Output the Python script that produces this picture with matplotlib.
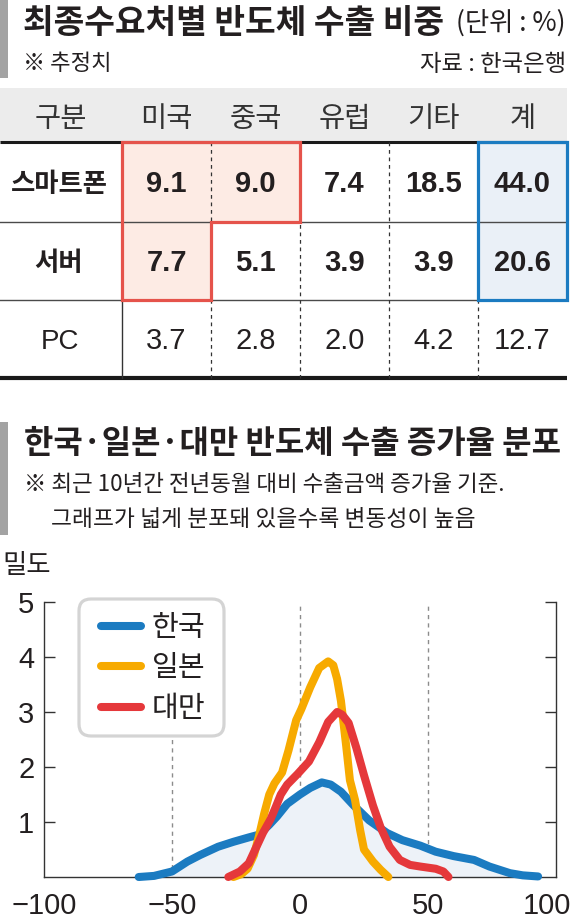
import matplotlib
matplotlib.use("Agg")
import matplotlib.pyplot as plt
from matplotlib.patches import Rectangle, Polygon, FancyBboxPatch
from matplotlib.lines import Line2D
from matplotlib.transforms import ScaledTranslation

plt.rcParams['font.family'] = ['Noto Sans CJK KR', 'DejaVu Sans']

# ---------------- data ----------------
regions = ['미국', '중국', '유럽', '기타', '계']
row_labels = ['스마트폰', '서버', 'PC']
smartphone = [9.1, 9.0, 7.4, 18.5, 44.0]
server = [7.7, 5.1, 3.9, 3.9, 20.6]
pc = [3.7, 2.8, 2.0, 4.2, 12.7]

korea_x = [-63, -57, -50, -44, -39, -32, -26, -20, -16, -12, -9, -5, 0, 4, 8.5, 12, 16, 21, 27, 34,
           40, 47, 53, 60, 68, 74, 82, 87, 93]
korea_y = [0.0, 0.02, 0.1, 0.28, 0.4, 0.55, 0.64, 0.72, 0.77, 0.95, 1.1, 1.33, 1.5, 1.62, 1.72, 1.68,
           1.55, 1.3, 1.03, 0.8, 0.67, 0.57, 0.46, 0.38, 0.31, 0.19, 0.07, 0.03, 0.01]
japan_x = [-26, -23, -20.5, -18, -16, -14, -12, -10, -7, -4.5, -1.5, 0.5, 4, 7.5, 11, 13, 14.5, 16,
           18, 19.5, 21.5, 23.5, 25, 28.5, 31.5, 34.5]
japan_y = [0.0, 0.05, 0.15, 0.4, 0.75, 1.15, 1.5, 1.7, 1.9, 2.3, 2.85, 3.05, 3.45, 3.8, 3.92, 3.85,
           3.6, 3.2, 2.4, 1.76, 1.4, 0.85, 0.5, 0.28, 0.13, 0.0]
taiwan_x = [-28, -23.5, -20, -17, -14.5, -11.5, -9.5, -7.5, -5, -1, 3.5, 7.5, 11, 14.5, 16.5, 19, 22,
            25, 28.5, 31.5, 35, 39, 43, 47, 53, 56, 58]
taiwan_y = [0.0, 0.1, 0.25, 0.55, 0.8, 1.05, 1.27, 1.5, 1.68, 1.87, 2.1, 2.45, 2.82, 3.0, 2.95, 2.8,
            2.35, 1.85, 1.3, 0.9, 0.55, 0.31, 0.22, 0.19, 0.15, 0.1, 0.0]
series_names = ['한국', '일본', '대만']
x_ticks = [-100, -50, 0, 50, 100]
y_ticks = [1, 2, 3, 4, 5]

# ---------------- style ----------------
W, H = 570, 923
TXT = '#231f20'
BLUE = '#1b7bc1'
YELLOW = '#f7aa00'
RED = '#e5383b'
KR = ['Noto Sans CJK KR', 'DejaVu Sans']
NUM = ['Liberation Sans', 'DejaVu Sans']

fig = plt.figure(figsize=(W / 100, H / 100), dpi=100)
fig.patch.set_facecolor('white')

ov = fig.add_axes([0, 0, 1, 1])
ov.set_xlim(0, W)
ov.set_ylim(H, 0)
ov.axis('off')


def px(pt):
    return pt * 100 / 72


def ctext(x, y, s, size, kind='kr', ha='center', weight='normal', color=TXT):
    # place text so that ink is vertically centred on y (pixel coords)
    if kind == 'kr':
        off = 0.38 * px(size)
        fam = KR
    else:
        off = 0.358 * px(size)
        fam = NUM
    ov.text(x, y + off, s, fontsize=size, ha=ha, va='baseline', family=fam,
            fontweight=weight, color=color)


# ---------------- section 1 : header ----------------
ov.add_patch(Rectangle((0, 0), 8, 78, color='#a3a3a3', lw=0))
ctext(23, 20, '최종수요처별 반도체 수출 비중', 24, ha='left', weight='bold')
ctext(566, 21, '(단위 : %)', 19, ha='right')
ctext(23, 62, '※ 추정치', 16, ha='left')
ctext(566, 62, '자료 : 한국은행', 16.8, ha='right')

# table geometry
col_edges = [0, 122, 211, 300, 389, 478, 567]
row_edges = [88, 142, 222, 300, 378]

ov.add_patch(Rectangle((0, row_edges[0]), col_edges[-1], row_edges[1] - row_edges[0],
                       color='#ececec', lw=0, zorder=1))

# highlight fills
red_poly = [(col_edges[1], row_edges[1]), (col_edges[3], row_edges[1]), (col_edges[3], row_edges[2]),
            (col_edges[2], row_edges[2]), (col_edges[2], row_edges[3]), (col_edges[1], row_edges[3])]
ov.add_patch(Polygon(red_poly, closed=True, facecolor='#fdebe4', edgecolor='none', zorder=1))
ov.add_patch(Rectangle((col_edges[5], row_edges[1]), col_edges[6] - col_edges[5],
                       row_edges[3] - row_edges[1], facecolor='#eaf0f7', edgecolor='none', zorder=1))

# rules
ov.plot([0, col_edges[-1]], [row_edges[1]] * 2, color='#1a1a1a', lw=2.2, zorder=2, solid_capstyle='butt')
for r in row_edges[2:4]:
    ov.plot([0, col_edges[-1]], [r] * 2, color='#4a4a4a', lw=1.0, zorder=2)
ov.plot([0, col_edges[-1]], [row_edges[4]] * 2, color='#1a1a1a', lw=3.0, zorder=2, solid_capstyle='butt')
ov.plot([col_edges[1]] * 2, [row_edges[1], row_edges[4]], color='#333333', lw=1.0, zorder=2)
for c in col_edges[2:6]:
    ov.plot([c] * 2, [row_edges[1], row_edges[4]], color='#333333', lw=0.9,
            dashes=(3, 3), zorder=2)

# highlight edges
ov.add_patch(Polygon(red_poly, closed=True, facecolor='none', edgecolor='#e5534b', lw=2.3,
                     joinstyle='miter', zorder=3))
ov.add_patch(Rectangle((col_edges[5], row_edges[1]), col_edges[6] - col_edges[5],
                       row_edges[3] - row_edges[1], facecolor='none', edgecolor=BLUE, lw=2.3,
                       joinstyle='miter', zorder=3))

# header text
hdr_y = 116
ctext((col_edges[0] + col_edges[1]) / 2, hdr_y, '구분', 20.5, color='#333333')
for i, name in enumerate(regions):
    ctext((col_edges[i + 1] + col_edges[i + 2]) / 2, hdr_y, name, 20.5, color='#333333')

# body
rows = [smartphone, server, pc]
bold_rows = [True, True, False]
for r, (lab, vals) in enumerate(zip(row_labels, rows)):
    yc = (row_edges[r + 1] + row_edges[r + 2]) / 2
    if lab == 'PC':
        ctext(60, yc, lab, 20, kind='num', color=TXT)
    else:
        ctext(59, yc, lab, 19, weight='bold')
    for i, v in enumerate(vals):
        ctext((col_edges[i + 1] + col_edges[i + 2]) / 2, yc, f'{v:.1f}', 21, kind='num',
              weight='bold' if bold_rows[r] else 'normal')

# ---------------- section 2 : header ----------------
ov.add_patch(Rectangle((0, 422), 8, 113, color='#a3a3a3', lw=0))
ctext(24, 441, '한국·일본·대만 반도체 수출 증가율 분포', 23, ha='left', weight='bold')
ctext(24, 482, '※ 최근 10년간 전년동월 대비 수출금액 증가율 기준.', 16.2, ha='left')
ctext(51, 517, '그래프가 넓게 분포돼 있을수록 변동성이 높음', 16.4, ha='left')
ctext(2, 563, '밀도', 19, ha='left')

# ---------------- chart ----------------
left, right, bottom, top = 44, 556, 877, 602
ax = fig.add_axes([left / W, 1 - bottom / H, (right - left) / W, (bottom - top) / H])
ax.set_facecolor('none')
ax.set_xlim(-100, 100)
ax.set_ylim(0, 5)

for xv in [-50, 0, 50]:
    ax.axvline(xv, color='#8c8c8c', lw=1.0, dashes=(3, 3), zorder=1)

ax.fill_between(korea_x, korea_y, 0, color='#edf2f8', lw=0, zorder=2)
lw_c = 5.8
ax.plot(korea_x, korea_y, color=BLUE, lw=lw_c, solid_capstyle='round', solid_joinstyle='round',
        clip_on=False, zorder=3)
ax.plot(japan_x, japan_y, color=YELLOW, lw=lw_c, solid_capstyle='round', solid_joinstyle='round',
        clip_on=False, zorder=4)
ax.plot(taiwan_x, taiwan_y, color=RED, lw=lw_c, solid_capstyle='round', solid_joinstyle='round',
        clip_on=False, zorder=5)

for s in ['left', 'bottom', 'right']:
    ax.spines[s].set_color('#333333')
    ax.spines[s].set_linewidth(1.0)
ax.spines['top'].set_visible(False)

ax.set_xticks(x_ticks)
ax.set_yticks(y_ticks)
ax.set_xticklabels([f'{v:d}'.replace('-', '\u2212') for v in x_ticks], family=NUM, fontsize=21, color=TXT)
ax.set_yticklabels([str(v) for v in y_ticks], family=NUM, fontsize=21, color=TXT)
ax.tick_params(axis='x', length=0, pad=11)
ax.tick_params(axis='y', direction='in', length=7.7, width=1.0, color='#333333', pad=7,
               right=True, labelright=False)
lbl = ax.get_xticklabels()[-1]
lbl.set_transform(lbl.get_transform() + ScaledTranslation(-0.09, 0, fig.dpi_scale_trans))

# legend frame (manual, in pixel coords)
ov.set_zorder(0)
ax.set_zorder(1)
frame = FancyBboxPatch((79, 599), 145, 137, boxstyle='round,pad=0,rounding_size=12',
                       facecolor='white', edgecolor='#d4d4d4', lw=2.3, zorder=6,
                       transform=ov.transData)
fig.add_artist(frame)
frame.set_zorder(10)
handles = [Line2D([], [], color=c, lw=lw_c, solid_capstyle='round') for c in [BLUE, YELLOW, RED]]
leg = fig.legend(handles, series_names, loc='upper left', bbox_to_anchor=(101 / W, 1 - 613 / H),
                 frameon=False, handlelength=1.38, handletextpad=0.36,
                 labelspacing=0.36, borderpad=0, borderaxespad=0, prop={'family': KR, 'size': 21})
leg.set_zorder(11)
for t in leg.get_texts():
    t.set_color(TXT)

fig.savefig('out.png', dpi=100, facecolor='white')
